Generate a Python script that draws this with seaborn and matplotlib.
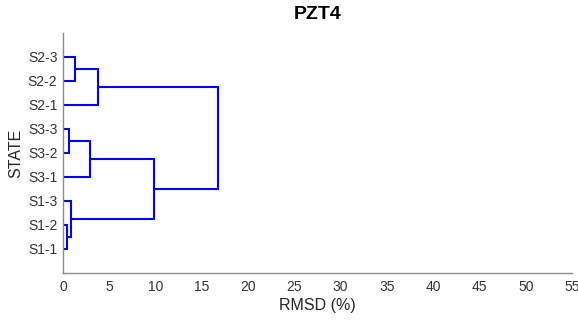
import matplotlib
matplotlib.use("Agg")
import matplotlib.pyplot as plt
import seaborn as sns

# Leaves, bottom to top
labels = ["S1-1", "S1-2", "S1-3", "S3-1", "S3-2", "S3-3", "S2-1", "S2-2", "S2-3"]

# Linkage: (child a, child b, RMSD height); new cluster ids start at len(labels)
merge_a = [0, 9, 4, 3, 10, 7, 6, 13]
merge_b = [1, 2, 5, 11, 12, 8, 14, 15]
merge_h = [0.45, 0.9, 0.68, 2.9, 9.8, 1.33, 3.78, 16.8]

xticks = list(range(0, 60, 5))

sns.set_style("white")
plt.rcParams["font.family"] = ["Liberation Sans", "DejaVu Sans"]

fig = plt.figure(figsize=(5.78, 3.2), dpi=100)
ax = fig.add_axes([63 / 578, 47 / 320, 509 / 578, 240 / 320])

# positions of leaves and clusters
ypos = {i: i + 1 for i in range(len(labels))}
hpos = {i: 0.0 for i in range(len(labels))}
for k, (a, b, h) in enumerate(zip(merge_a, merge_b, merge_h)):
    cid = len(labels) + k
    ax.plot([hpos[a], h, h, hpos[b]], [ypos[a], ypos[a], ypos[b], ypos[b]],
            color="#0000ff", lw=1.5, solid_joinstyle="miter")
    ypos[cid] = (ypos[a] + ypos[b]) / 2
    hpos[cid] = h

ax.set_xlim(0, 55)
ax.set_ylim(0, 10)
ax.set_xticks(xticks)
ax.set_yticks(range(1, len(labels) + 1))
ax.set_yticklabels(labels)
ax.tick_params(axis="both", direction="in", length=4, width=0.8, color="#808080",
               labelsize=10, labelcolor="#333333", pad=5)
ax.tick_params(axis="y", length=0, pad=4)

for s in ["top", "right"]:
    ax.spines[s].set_visible(False)
for s in ["left", "bottom"]:
    ax.spines[s].set_color("#8c8c8c")
    ax.spines[s].set_linewidth(1.0)

ax.set_xlabel("RMSD (%)", fontsize=11.5, color="#262626", labelpad=3)
ax.set_ylabel("STATE", fontsize=11.5, color="#262626", labelpad=3)
ax.set_title("PZT4", fontsize=14, fontweight="bold", color="black", pad=10)

fig.savefig("out.png", dpi=100)
